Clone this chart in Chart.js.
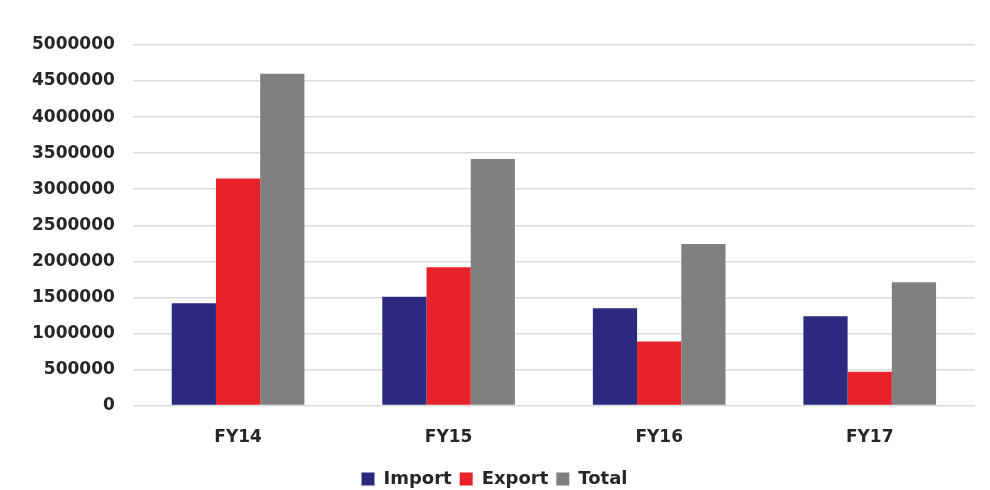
<!DOCTYPE html>
<html>
<head>
<meta charset="utf-8">
<script src="https://cdn.jsdelivr.net/npm/chart.js@4.4.1/dist/chart.umd.min.js"></script>
<style>
  html, body { margin: 0; padding: 0; background: #fff; }
  #wrap { width: 990px; height: 490px; }
</style>
</head>
<body>
<div id="wrap"><canvas id="bar-chartcanvas"></canvas></div>
<script>
var years = ["FY14", "FY15", "FY16", "FY17"];
var importValues = [1420000, 1510000, 1350000, 1240000];
var exportValues = [3150000, 1920000, 890000, 470000];
var totalValues = [4600000, 3420000, 2240000, 1710000];

var ctx = document.getElementById("bar-chartcanvas");

var data = {
    labels : years,
    datasets : [
        {
            label : "Import",
            data : importValues,
            backgroundColor : "#2b2a7e",
            barPercentage : 1.0,
            categoryPercentage : 0.63
        },
        {
            label : "Export",
            data : exportValues,
            backgroundColor : "#e8222a",
            barPercentage : 1.0,
            categoryPercentage : 0.63
        },
        {
            label : "Total",
            data : totalValues,
            backgroundColor : "#808080",
            barPercentage : 1.0,
            categoryPercentage : 0.63
        }
    ]
};

var tickFont = { family : "DejaVu Sans", size : 17, weight : "bold" };

var options = {
    responsive : true,
    maintainAspectRatio : false,
    animation : false,
    layout : {
        padding : { left : 14, right : 15, top : 45, bottom : -8 }
    },
    plugins : {
        legend : {
            display : true,
            position : "bottom",
            labels : {
                boxWidth : 13,
                boxHeight : 13,
                padding : 8,
                color : "#262626",
                font : { family : "DejaVu Sans", size : 18, weight : "bold" }
            }
        },
        tooltip : { enabled : false }
    },
    scales : {
        x : {
            grid : { display : false },
            border : { display : false },
            ticks : {
                padding : 14,
                color : "#262626",
                font : tickFont
            }
        },
        y : {
            min : 0,
            max : 5000000,
            border : { display : false },
            grid : { color : "#dcdcdc", lineWidth : 1.5, drawTicks : false },
            ticks : {
                stepSize : 500000,
                padding : 18,
                color : "#262626",
                font : tickFont,
                callback : function(value) { return String(value); }
            }
        }
    }
};

var chart = new Chart(ctx, {
    type : "bar",
    data : data,
    options : options
});
</script>
</body>
</html>
